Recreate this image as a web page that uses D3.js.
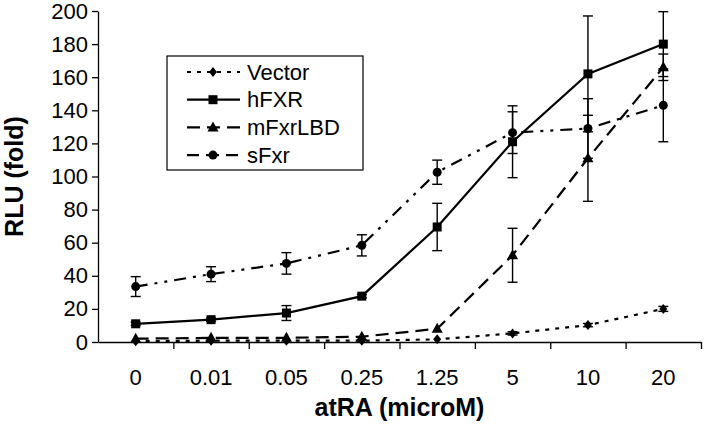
<!DOCTYPE html>
<html>
<head>
<meta charset="utf-8">
<script src="https://cdn.jsdelivr.net/npm/d3@7"></script>
<style>
  body { margin: 0; background: #fff; }
  svg { display: block; font-family: "Liberation Sans", Arial, sans-serif; }
</style>
</head>
<body>
<div id="chart"></div>
<script>
const doses = ['0', '0.01', '0.05', '0.25', '1.25', '5', '10', '20'];
const yTicks = [0, 20, 40, 60, 80, 100, 120, 140, 160, 180, 200];

const vector = [0.5, 0.8, 0.8, 0.8, 1.6, 5.2, 10.2, 20];
const vectorErr = [0.5, 0.5, 0.5, 0.5, 0.5, 1, 1, 1.5];
const hfxr = [11, 13.5, 17.5, 27.7, 69.5, 121, 162, 180];
const hfxrErr = [1, 1, 4.5, 1, 14.3, 21.7, 35, 19.6];
const mfxr = [2, 2.5, 2.5, 3.2, 8, 52.4, 111, 166];
const mfxrErr = [0.5, 0.5, 0.5, 0.5, 0.5, 16.3, 26, 8];
const sfxr = [33.5, 41, 47.5, 58.4, 102.6, 126.5, 129, 143];
const sfxrErr = [6, 4.5, 6.5, 6.4, 7.3, 12.6, 18, 22];

const series = [
  { name: 'Vector', values: vector, err: vectorErr, dash: '4,6', marker: 'diamond' },
  { name: 'hFXR', values: hfxr, err: hfxrErr, dash: null, marker: 'square' },
  { name: 'mFxrLBD', values: mfxr, err: mfxrErr, dash: '13,7', marker: 'triangle' },
  { name: 'sFxr', values: sfxr, err: sfxrErr, dash: '12,7,3,7,3,7', marker: 'circle' }
];

const width = 705;
const height = 432;
const margin = { top: 11, right: 4, bottom: 90, left: 98 };

const svg = d3.select('#chart')
  .append('svg')
  .attr('width', width)
  .attr('height', height);

const x = d3.scaleBand()
  .domain(doses)
  .range([margin.left, width - margin.right])
  .padding(0);

const xEdge = d3.scaleLinear()
  .domain([0, doses.length])
  .range([margin.left, width - margin.right]);

const y = d3.scaleLinear()
  .domain([0, 200])
  .range([height - margin.bottom, margin.top]);

const cx = d => x(d) + x.bandwidth() / 2;

// axes
svg.append('g')
  .attr('transform', `translate(${margin.left},0)`)
  .call(d3.axisLeft(y).tickValues(yTicks).tickSize(6).tickSizeOuter(0))
  .call(g => g.selectAll('text').attr('font-size', '22px').attr('fill', '#000').attr('font-family', 'Liberation Sans, Arial, sans-serif').attr('x', -10))
  .call(g => g.selectAll('line, path').attr('stroke', '#000').attr('stroke-width', 1.3));

svg.append('g')
  .attr('transform', `translate(0,${y(0)})`)
  .call(d3.axisBottom(xEdge).tickValues(d3.range(1, doses.length + 1)).tickSize(7).tickSizeOuter(0).tickFormat(''))
  .call(g => g.selectAll('line, path').attr('stroke', '#000').attr('stroke-width', 1.3));

svg.append('g')
  .attr('transform', `translate(0,${y(0) + 24})`)
  .call(d3.axisBottom(x).tickSize(0))
  .call(g => g.select('.domain').remove())
  .call(g => g.selectAll('text').attr('font-size', '22px').attr('fill', '#000').attr('font-family', 'Liberation Sans, Arial, sans-serif'));

// axis titles
svg.append('text')
  .attr('x', (margin.left + width - margin.right) / 2)
  .attr('y', 416)
  .attr('text-anchor', 'middle')
  .attr('font-size', '25px')
  .attr('font-weight', 'bold')
  .text('atRA (microM)');

svg.append('text')
  .attr('transform', `translate(23,${(y(0) + y(200)) / 2}) rotate(-90)`)
  .attr('text-anchor', 'middle')
  .attr('font-size', '25px')
  .attr('font-weight', 'bold')
  .text('RLU (fold)');

// markers
function drawMarker(g, type, px, py) {
  if (type === 'square') {
    g.append('rect').attr('x', px - 4.5).attr('y', py - 4.5).attr('width', 9).attr('height', 9).attr('fill', '#000');
  } else if (type === 'circle') {
    g.append('circle').attr('cx', px).attr('cy', py).attr('r', 4.5).attr('fill', '#000');
  } else if (type === 'triangle') {
    g.append('path').attr('d', `M${px},${py - 6}L${px + 5.5},${py + 4}L${px - 5.5},${py + 4}Z`).attr('fill', '#000');
  } else {
    g.append('path').attr('d', `M${px},${py - 5}L${px + 4},${py}L${px},${py + 5}L${px - 4},${py}Z`).attr('fill', '#000');
  }
}

const line = d3.line()
  .x((d, i) => cx(doses[i]))
  .y(d => y(d));

series.forEach(s => {
  const g = svg.append('g');
  g.append('path')
    .datum(s.values)
    .attr('d', line)
    .attr('fill', 'none')
    .attr('stroke', '#000')
    .attr('stroke-width', 2.2)
    .attr('stroke-dasharray', s.dash);

  // error bars
  s.values.forEach((v, i) => {
    const px = cx(doses[i]);
    const e = s.err[i];
    if (e < 1) return;
    g.append('line').attr('x1', px).attr('x2', px).attr('y1', y(v - e)).attr('y2', y(v + e)).attr('stroke', '#000').attr('stroke-width', 1.4);
    [v - e, v + e].forEach(t => {
      g.append('line').attr('x1', px - 5).attr('x2', px + 5).attr('y1', y(t)).attr('y2', y(t)).attr('stroke', '#000').attr('stroke-width', 1.4);
    });
  });

  s.values.forEach((v, i) => drawMarker(g, s.marker, cx(doses[i]), y(v)));
});

// legend
const legend = svg.append('g');
legend.append('rect')
  .attr('x', 167).attr('y', 56)
  .attr('width', 196).attr('height', 114)
  .attr('fill', '#fff')
  .attr('stroke', '#000')
  .attr('stroke-width', 1.2);

series.forEach((s, i) => {
  const ly = 72 + i * 27.7;
  legend.append('line')
    .attr('x1', 187).attr('x2', 240)
    .attr('y1', ly).attr('y2', ly)
    .attr('stroke', '#000')
    .attr('stroke-width', 2.2)
    .attr('stroke-dasharray', s.dash);
  drawMarker(legend, s.marker, 213, ly);
  legend.append('text')
    .attr('x', 247).attr('y', ly)
    .attr('dy', '0.35em')
    .attr('font-size', '22px')
    .text(s.name);
});
</script>
</body>
</html>
